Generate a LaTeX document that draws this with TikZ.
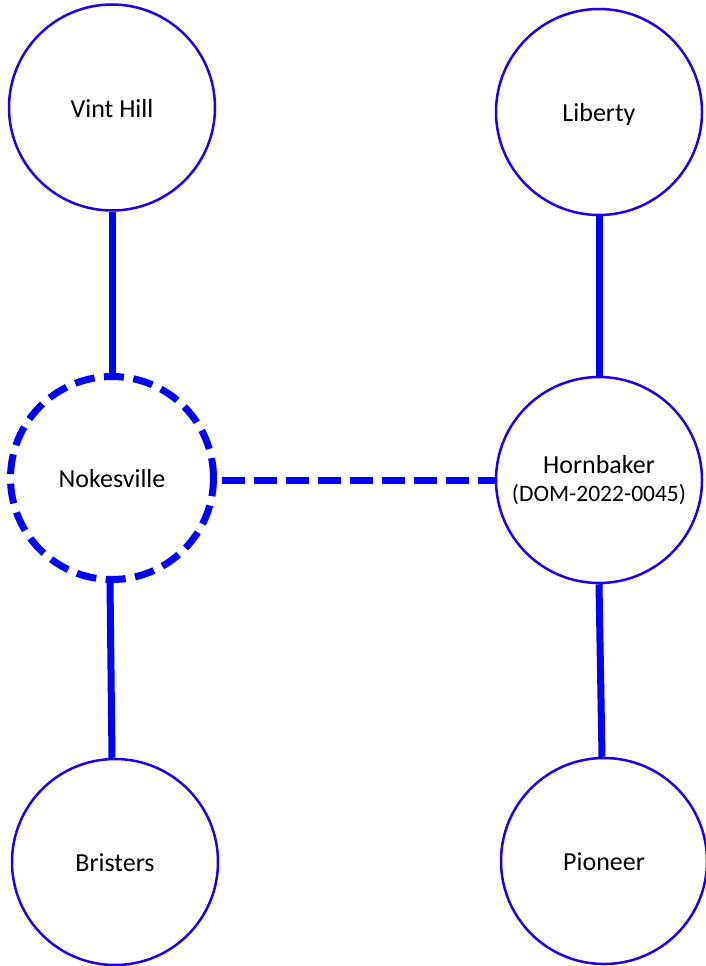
\documentclass[tikz,border=0pt]{standalone}
\usepackage{fontspec}
\setmainfont{Carlito}
\usetikzlibrary{backgrounds}
\definecolor{ringblue}{RGB}{32,0,228}
\definecolor{linkblue}{RGB}{0,0,255}
\begin{document}
\begin{tikzpicture}[x=1pt,y=-1pt,
  basering/.style={circle,fill=white,inner sep=0pt,align=center,font=\fontsize{26}{30}\selectfont},
  station/.style={basering,draw=ringblue,line width=2.5pt,minimum size=206pt},
  oneline/.style={text height=23.4pt,text depth=4.4pt},
  planned/.style={basering,draw=linkblue,line width=7pt,dash pattern=on 20pt off 9.5pt,minimum size=203pt},
  link/.style={draw=linkblue,line width=7pt},
  plannedlink/.style={draw=linkblue,line width=7pt,dash pattern=on 23pt off 9pt,dash phase=-5pt}]
\useasboundingbox (0,0) rectangle (705,966);
\node[station,oneline] (vh) at (112,107.5) {Vint Hill};
\node[station,oneline] (lb) at (599,112) {Liberty};
\node[planned,oneline] (nk) at (112,478) {Nokesville};
\node[station] (hb) at (599,480) {Hornbaker\\[-2pt]{\fontsize{23.5}{28}\selectfont(DOM-2022-0045)}};
\node[station,oneline] (br) at (115,862) {Bristers};
\node[station,oneline] (pn) at (604,861) {Pioneer};
\begin{scope}[on background layer]
\draw[link] (vh.south) -- (nk.north);
\draw[link] (lb.south) -- (hb.north);
\draw[link] ([xshift=-2pt]nk.south) -- ([xshift=-3pt]br.north);
\draw[link] (hb.south) -- ([xshift=-2pt]pn.north);
\draw[plannedlink] (nk.east |- hb.west) -- (hb.west);
\end{scope}
\end{tikzpicture}
\end{document}
